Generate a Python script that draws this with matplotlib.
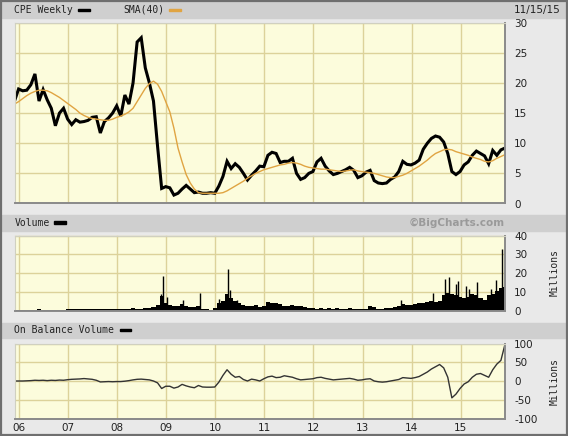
import numpy as np
import pandas as pd
import matplotlib
matplotlib.use("Agg")
import matplotlib.pyplot as plt
import matplotlib.dates as mdates
from matplotlib.patches import Rectangle

plt.rcParams["axes.unicode_minus"] = False

# monthly samples, late Nov 2005 .. late Nov 2015
dates = pd.date_range("2005-11-27", "2015-11-27", periods=121)

price = [17.0, 19.0, 18.7, 18.8, 19.7, 21.5, 17.0, 18.9, 17.2, 15.8,
         12.9, 15.0, 15.8, 14.0, 13.1, 13.9, 13.5, 13.6, 13.8, 14.3,
         14.4, 11.7, 13.6, 14.2, 15.0, 16.2, 14.5, 18.0, 16.5, 20.0,
         26.8, 27.5, 22.5, 20.0, 17.0, 9.5, 2.5, 2.8, 2.6, 1.4,
         1.7, 2.4, 3.0, 2.4, 1.8, 1.9, 1.7, 1.7, 1.8, 1.7,
         2.9, 4.5, 7.0, 5.8, 6.6, 6.0, 5.0, 3.9, 4.7, 5.4,
         6.2, 6.1, 8.0, 8.5, 8.3, 6.8, 7.0, 7.0, 7.5, 5.0,
         4.0, 4.3, 5.0, 5.3, 6.9, 7.5, 6.2, 5.4, 4.8, 5.0,
         5.3, 5.6, 6.0, 5.5, 4.3, 4.6, 5.2, 5.5, 3.8, 3.4,
         3.3, 3.4, 4.0, 4.4, 5.3, 7.0, 6.5, 6.4, 6.7, 7.2,
         9.0, 10.0, 10.8, 11.2, 11.0, 10.2, 8.3, 5.3, 4.8, 5.3,
         6.4, 6.9, 8.0, 8.7, 8.3, 7.9, 6.6, 8.8, 8.0, 8.9, 9.2]

sma40 = [16.5, 16.9, 17.4, 17.9, 18.3, 18.6, 18.8, 18.8, 18.7, 18.4,
         18.0, 17.6, 17.1, 16.6, 16.1, 15.6, 15.0, 14.6, 14.3, 14.1,
         14.0, 13.9, 13.8, 13.8, 14.0, 14.3, 14.5, 14.8, 15.2, 15.8,
         16.9, 18.0, 19.1, 19.9, 20.3, 19.8, 18.6, 16.9, 15.2, 12.5,
         9.2, 6.9, 4.8, 3.4, 2.4, 1.8, 1.7, 1.7, 1.7, 1.7,
         1.7, 1.8, 2.1, 2.5, 2.9, 3.3, 3.7, 4.2, 4.6, 5.0,
         5.3, 5.6, 5.8, 6.0, 6.2, 6.4, 6.5, 6.7, 6.8, 6.7,
         6.5, 6.2, 6.0, 5.9, 5.8, 5.7, 5.7, 5.6, 5.5, 5.4,
         5.3, 5.4, 5.5, 5.6, 5.4, 5.3, 5.2, 5.1, 5.0, 4.8,
         4.6, 4.4, 4.3, 4.3, 4.5, 4.7, 5.0, 5.4, 5.8, 6.2,
         6.7, 7.2, 7.8, 8.3, 8.6, 8.9, 9.0, 8.9, 8.6, 8.4,
         8.2, 8.0, 7.7, 7.5, 7.3, 7.0, 6.9, 7.1, 7.5, 7.8, 8.1]

# volume, millions (monthly base level)
volume = [0.3, 0.5, 0.6, 0.5, 0.7, 0.6, 0.8, 0.5, 0.6, 0.7,
          0.6, 0.5, 0.6, 0.8, 0.9, 0.8, 0.9, 1.0, 0.9, 1.0,
          1.1, 1.0, 1.2, 1.1, 1.0, 1.2, 1.1, 1.3, 1.2, 1.4,
          1.3, 1.2, 1.4, 1.6, 2.0, 3.0, 8.0, 4.0, 3.2, 2.5,
          2.4, 3.5, 2.8, 2.2, 2.0, 2.5, 1.0, 0.8, 0.7, 1.5,
          4.0, 5.5, 9.0, 7.0, 5.5, 4.5, 3.0, 2.8, 2.5, 3.0,
          2.2, 2.5, 4.8, 4.5, 4.0, 3.5, 2.8, 2.6, 3.0, 2.5,
          2.8, 2.0, 1.8, 1.5, 1.3, 1.8, 1.2, 1.4, 1.1, 1.6,
          1.2, 1.3, 1.5, 1.2, 1.0, 1.1, 1.0, 2.5, 2.2, 1.3,
          1.2, 1.5, 1.8, 2.0, 2.5, 3.5, 3.0, 3.2, 3.5, 4.2,
          4.5, 4.8, 5.5, 5.0, 5.5, 8.5, 9.5, 9.0, 8.5, 7.5,
          7.0, 7.5, 9.0, 8.5, 7.0, 6.0, 8.5, 9.0, 10.5, 12.0, 12.5]

# single heavy weeks
spike_dates = ["2008-11-20", "2008-12-05", "2009-01-08", "2009-05-05",
               "2009-09-06", "2010-01-26", "2010-04-05", "2010-04-20",
               "2010-06-13", "2013-10-12", "2014-06-10", "2014-09-06",
               "2014-10-05", "2014-11-25", "2014-12-13", "2015-02-06",
               "2015-03-07", "2015-05-01", "2015-08-15", "2015-09-24",
               "2015-11-07"]
spike_vols = [9.2, 18.8, 7.4, 6.0, 9.5, 6.5, 22.4, 11.0, 6.0, 5.7, 9.8,
              17.0, 18.2, 14.3, 16.0, 13.4, 11.6, 15.2, 11.6, 16.4, 33.0]

# on balance volume, millions
obv = [0, 0, 0, 0.5, 1, 2, 1.5, 2, 1, 2,
       1.5, 2.5, 2, 3.5, 4.5, 5, 5.5, 6.5, 5.5, 4.5,
       2, -2.5, -2, -1.5, -2, -1.5, -1.5, -0.5, 1, 3,
       4.5, 5, 4, 3, 0, -5, -20, -14, -14, -19,
       -16, -9, -13, -16, -18, -12, -16, -16.5, -16.5, -16,
       -3, 15, 30, 18, 10, 12, 4, 0, 5, 3,
       0, 6, 11, 13, 9, 10, 14, 12, 10, 6,
       3, 4, 5, 6, 9, 10, 7, 5, 3, 4,
       5, 6, 7, 5, 2, 3, 5, 6, 0, -2,
       -3, -2, 0, 2, 4, 9, 8, 7, 9, 12,
       18, 24, 32, 38, 44, 35, 10, -45, -35, -20,
       -8, -2, 10, 18, 20, 15, 10, 30, 45, 55, 98]

year_ticks = pd.date_range("2006-01-01", "2015-01-01", freq="YS")

W, H = 568, 436
BG = "#e9e9e9"
BAR = "#cfcfcf"
PLOT_BG = "#fcfcdc"
GRID = "#dcd29a"
FONT = "DejaVu Sans"
MONO = "DejaVu Sans Mono"


def fx(x):
    return x / W


def fy(y):
    return 1 - y / H


def panel(top, bottom):
    ax = fig.add_axes([fx(14.5), fy(bottom), fx(505) - fx(14.5), (bottom - top) / H])
    ax.set_facecolor(PLOT_BG)
    ax.set_xlim(dates[0], dates[-1])
    ax.set_xticks(year_ticks)
    ax.xaxis.set_major_formatter(mdates.DateFormatter("%y"))
    ax.grid(True, color=GRID, lw=1.0)
    ax.set_axisbelow(True)
    ax.yaxis.tick_right()
    ax.tick_params(axis="y", length=0, pad=6.5, labelsize=7.5, labelcolor="#222")
    ax.tick_params(axis="x", length=0, pad=3, labelsize=7.5, labelcolor="#222")
    for s in ["top", "left"]:
        ax.spines[s].set_color("#d0d0c0")
        ax.spines[s].set_linewidth(0.8)
    for s in ["bottom", "right"]:
        ax.spines[s].set_color("#8a8a8a")
        ax.spines[s].set_linewidth(1.4)
    return ax


fig = plt.figure(figsize=(W / 100, H / 100), dpi=100)
fig.patch.set_facecolor(BG)

# header strips
for y0, y1 in [(1.5, 18.5), (214.5, 230.8), (322.7, 338.0)]:
    fig.add_artist(Rectangle((fx(1.5), fy(y1)), fx(565), (y1 - y0) / H,
                             transform=fig.transFigure, color=BAR, zorder=0))
fig.add_artist(Rectangle((0.0015, 0.002), 0.997, 0.996, transform=fig.transFigure,
                         fill=False, edgecolor="#6f6f6f", lw=1.6, zorder=5))

# price panel
ax1 = panel(22.7, 203.5)
ax1.plot(dates, price, color="black", lw=2.2, solid_joinstyle="miter")
ax1.plot(dates, sma40, color="#e0a442", lw=1.0)
ax1.set_ylim(0, 30)
ax1.set_yticks([0, 5, 10, 15, 20, 25, 30])
ax1.tick_params(axis="x", labelbottom=False)
for lab in ax1.get_yticklabels():
    lab.set_ha("left")

# volume panel
ax2 = panel(235.5, 311.0)
ax2.fill_between(dates, volume, step="mid", color="black", lw=0)
ax2.vlines(pd.to_datetime(spike_dates), 0, spike_vols, color="black", lw=1.0)
ax2.set_ylim(0, 40)
ax2.set_yticks([0, 10, 20, 30, 40])
ax2.tick_params(axis="x", labelbottom=False)
for lab in ax2.get_yticklabels():
    lab.set_ha("left")

# OBV panel
ax3 = panel(343.5, 418.5)
ax3.plot(dates, obv, color="#333333", lw=1.0)
ax3.set_ylim(-100, 100)
ax3.set_yticks([-100, -50, 0, 50, 100])
for lab in ax3.get_yticklabels():
    lab.set_ha("left")

# header texts
fig.text(fx(14.5), fy(10), "CPE Weekly", family=MONO, size=7, va="center", color="#222")
fig.add_artist(Rectangle((fx(78), fy(11.3)), fx(12), 2.6 / H, transform=fig.transFigure,
                         color="black"))
fig.text(fx(123), fy(10), "SMA(40)", family=MONO, size=7, va="center", color="#222")
fig.add_artist(Rectangle((fx(169), fy(11.3)), fx(12), 2.6 / H, transform=fig.transFigure,
                         color="#e0a442"))
fig.text(fx(514), fy(10), "11/15/15", family=FONT, size=7.5, va="center", color="#222")

fig.text(fx(14.5), fy(222.5), "Volume", family=MONO, size=7, va="center", color="#222")
fig.add_artist(Rectangle((fx(54), fy(223.8)), fx(12), 2.6 / H, transform=fig.transFigure,
                         color="black"))
fig.text(fx(505), fy(222.5), "\u00a9BigCharts.com", family=FONT, size=7.5,
         weight="bold", ha="right", va="center", color="#9a9a9a")

fig.text(fx(14.5), fy(330), "On Balance Volume", family=MONO, size=7, va="center",
         color="#222")
fig.add_artist(Rectangle((fx(120), fy(331.3)), fx(11), 2.6 / H, transform=fig.transFigure,
                         color="black"))

fig.text(fx(555), fy(273), "Millions", family=MONO, size=7, rotation=90,
         ha="center", va="center", color="#222")
fig.text(fx(555), fy(381), "Millions", family=MONO, size=7, rotation=90,
         ha="center", va="center", color="#222")

fig.savefig("out.png", dpi=100, facecolor=BG)
